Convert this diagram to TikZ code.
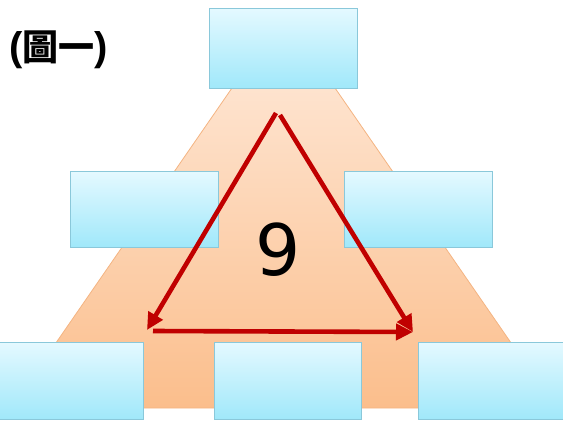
\documentclass[tikz,border=0pt]{standalone}
\usepackage{fontspec}
\newfontfamily\cjkfont{Noto Sans CJK TC}
\newfontfamily\ninefont{DejaVu Sans}
\newfontfamily\parenfont{Liberation Sans}
\usetikzlibrary{arrows.meta,shadows}
\definecolor{boxtop}{RGB}{228,249,255}
\definecolor{boxbot}{RGB}{160,232,250}
\definecolor{boxline}{RGB}{138,200,218}
\definecolor{traptop}{RGB}{254,227,206}
\definecolor{trapbot}{RGB}{251,190,140}
\definecolor{trapline}{RGB}{244,180,130}
\definecolor{arrowred}{RGB}{192,0,0}
\tikzset{
  bluebox/.style={draw=boxline, line width=0.9pt, top color=boxtop, bottom color=boxbot,
    minimum width=148pt, inner sep=0pt, anchor=north west,
    drop shadow={shadow xshift=0.8pt, shadow yshift=-1pt, opacity=0.25, fill=black!60}},
  redarrow/.style={draw=arrowred, line width=4.6pt, -{Triangle[length=17pt,width=16pt]}},
}
\begin{document}
\begin{tikzpicture}[x=1pt,y=-1pt]
\useasboundingbox (0,0) rectangle (563,421);
\clip (0,0) rectangle (563,421);
% trapezoid
\path[draw=trapline, line width=0.8pt, top color=traptop, bottom color=trapbot]
  (232,88) -- (335,88) -- (556,408) -- (11,408) -- cycle;
% boxes
\node[bluebox, minimum height=80pt] (top) at (209,8) {};
\node[bluebox, minimum height=76pt] (ml) at (70,171) {};
\node[bluebox, minimum height=76pt] (mr) at (344,171) {};
\node[bluebox, minimum height=77pt] (bl) at (-5,342) {};
\node[bluebox, minimum height=77pt, minimum width=147pt] (bm) at (214,342) {};
\node[bluebox, minimum height=77pt] (br) at (418,342) {};
% arrows
\coordinate (apexl) at (276,113);
\coordinate (apexr) at (280,115);
\coordinate (endl) at (147,330);
\coordinate (endr) at (413,332);
\coordinate (basel) at (153,331);
\draw[redarrow] (apexl) -- (endl);
\draw[redarrow] (apexr) -- (endr);
\draw[redarrow] (basel) -- (endr);
% number
\node[font=\ninefont\fontsize{71}{71}\selectfont, inner sep=0pt] (nine) at (278,250) {9};
% title
\node[font=\cjkfont\bfseries\fontsize{36}{36}\selectfont, inner sep=0pt, anchor=west] (title) at (9,50)
  {{\parenfont\bfseries\fontsize{40}{40}\selectfont(}圖一{\parenfont\bfseries\fontsize{40}{40}\selectfont)}};
\end{tikzpicture}
\end{document}
